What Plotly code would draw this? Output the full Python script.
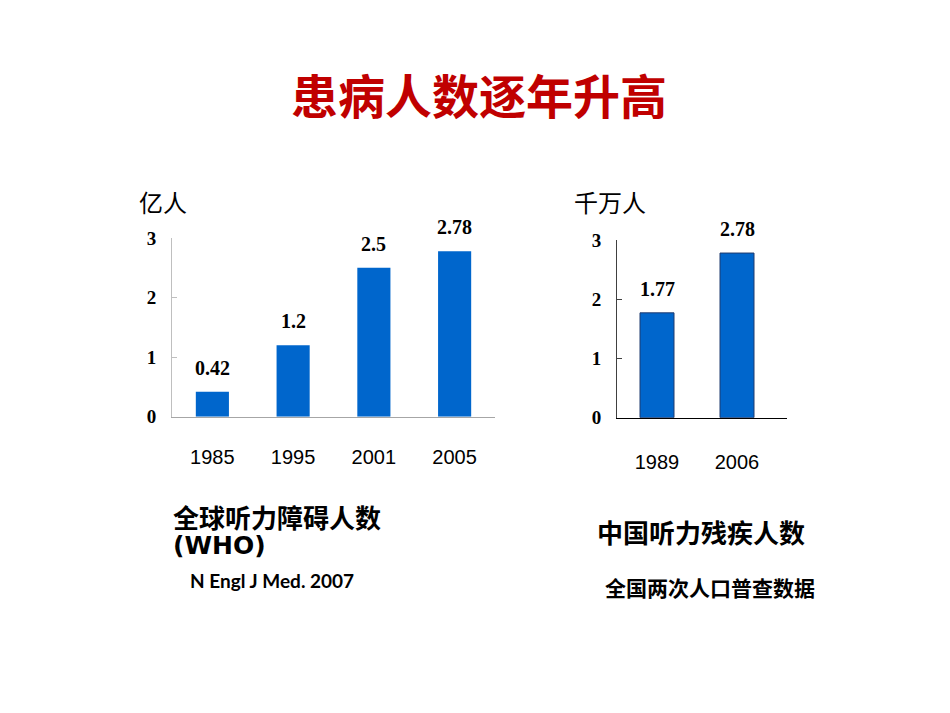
import plotly.graph_objects as go

# ---- data ----
world_years = ["1985", "1995", "2001", "2005"]
world_values = [0.42, 1.2, 2.5, 2.78]
world_labels = ["0.42", "1.2", "2.5", "2.78"]

china_years = ["1989", "2006"]
china_values = [1.77, 2.78]
china_labels = ["1.77", "2.78"]

y_ticks = [0, 1, 2, 3]

title_text = "患病人数逐年升高"
left_unit = "亿人"
right_unit = "千万人"
left_caption = "全球听力障碍人数"
left_caption2 = "(WHO)"
left_source = "N Engl J Med. 2007"
right_caption = "中国听力残疾人数"
right_source = "全国两次人口普查数据"

BAR = "#0066CC"
CJK = "Noto Sans CJK SC"
SERIF = "Liberation Serif"
SANS = "Liberation Sans"

W, H = 950, 713
def px(x):
    return x / W
def py(y):
    return 1 - y / H

fig = go.Figure()
fig.add_trace(go.Bar(x=list(range(len(world_years))), y=world_values,
                     marker=dict(color=BAR, line=dict(width=0)),
                     width=0.41, xaxis="x", yaxis="y", hoverinfo="skip"))
fig.add_trace(go.Bar(x=list(range(len(china_years))), y=china_values,
                     marker=dict(color=BAR, line=dict(color="#1F3A6E", width=1)),
                     width=0.425, xaxis="x2", yaxis="y2", hoverinfo="skip"))

tickfont_y = dict(family=SERIF, size=19, color="black", weight="bold")
tickfont_x = dict(family=SANS, size=20, color="black")

fig.update_layout(
    width=W, height=H,
    margin=dict(l=0, r=0, t=0, b=0),
    paper_bgcolor="white", plot_bgcolor="white",
    showlegend=False,
    xaxis=dict(domain=[px(172), px(495)], range=[-0.5, 3.5],
               tickvals=list(range(len(world_years))), ticktext=world_years,
               showline=True, linecolor="#A6A6A6", linewidth=1,
               showgrid=False, zeroline=False, ticks="", tickfont=tickfont_x,
               ticklabelstandoff=22, anchor="y"),
    yaxis=dict(domain=[py(419), py(235)], range=[0, 3], tickvals=y_ticks,
               showline=True, linecolor="#BFBFBF", linewidth=1,
               showgrid=False, zeroline=False, ticks="inside", ticklen=5,
               tickcolor="#BFBFBF", tickfont=tickfont_y,
               ticklabelstandoff=11, anchor="x"),
    xaxis2=dict(domain=[px(617), px(787)], range=[-0.5, 1.625],
                tickvals=list(range(len(china_years))), ticktext=china_years,
                showline=True, linecolor="black", linewidth=1,
                showgrid=False, zeroline=False, ticks="", tickfont=tickfont_x,
                ticklabelstandoff=26, anchor="y2"),
    yaxis2=dict(domain=[py(420), py(237)], range=[0, 3], tickvals=y_ticks,
                showline=True, linecolor="#404040", linewidth=1,
                showgrid=False, zeroline=False, ticks="inside", ticklen=5,
                tickcolor="#404040", tickfont=tickfont_y,
                ticklabelstandoff=11, anchor="x2"),
)

annotations = []
lblfont = dict(family=SERIF, size=20, color="black", weight="bold")
for i, (v, lab) in enumerate(zip(world_values, world_labels)):
    annotations.append(dict(x=i, y=v, xref="x", yref="y", text=lab,
                            showarrow=False, yanchor="bottom", yshift=11,
                            font=lblfont))
for i, (v, lab) in enumerate(zip(china_values, china_labels)):
    annotations.append(dict(x=i, y=v, xref="x2", yref="y2", text=lab,
                            showarrow=False, yanchor="bottom", yshift=11,
                            font=lblfont))

def txt(x, y, text, size, family=CJK, color="black", weight="normal", xanchor="left"):
    annotations.append(dict(x=px(x), y=py(y), xref="paper", yref="paper", text=text,
                            showarrow=False, xanchor=xanchor, yanchor="middle",
                            font=dict(family=family, size=size, color=color, weight=weight)))

txt(479, 86, title_text, 47, color="#C00000", weight="bold", xanchor="center")
txt(137, 197, left_unit, 24)
txt(572, 197, right_unit, 24)
txt(171, 522, left_caption, 26, weight="bold")
txt(171, 552, left_caption2, 25, family="DejaVu Sans", weight="bold")
txt(188, 588, left_source, 19, family="Lato", weight="bold")
txt(595, 537, right_caption, 26, weight="bold")
txt(603, 595, right_source, 21, weight="bold")

fig.update_layout(annotations=annotations)
fig.write_html("out.html")
